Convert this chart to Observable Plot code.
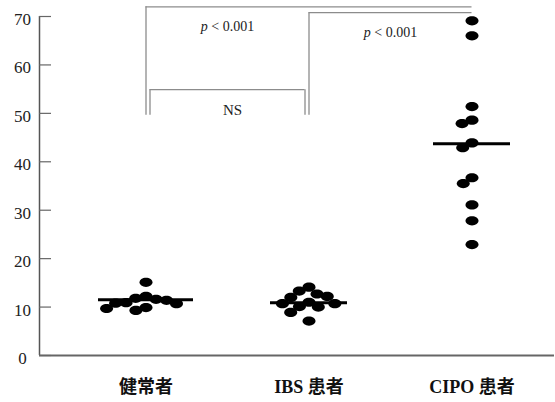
<!DOCTYPE html>
<html>
<head>
<meta charset="utf-8">
<script src="https://cdn.jsdelivr.net/npm/d3@7"></script>
<script src="https://cdn.jsdelivr.net/npm/@observablehq/plot@0.6"></script>
<style>
  body { margin: 0; background: #fff; }
  svg { display: block; }
  svg text { font-family: 'Liberation Serif', 'Noto Sans CJK JP', serif !important; }
</style>
</head>
<body>
<div id="chart"></div>
<script>
// ---- data ----
const categories = ["健常者", "IBS 患者", "CIPO 患者"];
const healthyValues = [15.1, 12.2, 11.8, 11.6, 11.4, 10.9, 10.8, 10.7, 9.9, 9.7, 9.3];
const ibsValues = [14.1, 13.3, 12.7, 12.2, 12.0, 11.0, 10.7, 10.7, 10.1, 10.0, 8.9, 7.1];
const cipoValues = [69.1, 66.0, 51.4, 48.6, 47.9, 43.9, 42.9, 36.7, 35.5, 31.1, 27.8, 22.9];
const meanValues = [11.5, 10.9, 43.7];
const yTicks = [0, 10, 20, 30, 40, 50, 60, 70];
const bracketFrom = [0, 0, 1];
const bracketTo = [2, 1, 2];
const bracketTop = [72, 54.9, 70.8];
const bracketBottom = 49.6;
const bracketLabels = ["p < 0.001", "NS", "p < 0.001"];
const bracketRightLeg = [false, true, false];

// ---- derived tables ----
const points = [healthyValues, ibsValues, cipoValues].flatMap((vals, i) =>
  vals.map(v => ({group: categories[i], value: v})));
const means = meanValues.map((m, i) => ({group: categories[i], mean: m}));
const first = categories[0];
const onFirst = () => first;

// ellipse symbol for the dots
const ellipse = {
  draw(ctx, size) {
    const r = Math.sqrt(size / Math.PI);
    const rx = r * 1.3, ry = r * 0.92, k = 0.5522847498;
    ctx.moveTo(rx, 0);
    ctx.bezierCurveTo(rx, ry * k, rx * k, ry, 0, ry);
    ctx.bezierCurveTo(-rx * k, ry, -rx, ry * k, -rx, 0);
    ctx.bezierCurveTo(-rx, -ry * k, -rx * k, -ry, 0, -ry);
    ctx.bezierCurveTo(rx * k, -ry, rx, -ry * k, rx, 0);
    ctx.closePath();
  }
};

const serif = "'Liberation Serif', 'Noto Sans CJK JP', serif";
const bracketColor = "#8c8c8c";

const bracketMarks = bracketFrom.flatMap((a, i) => {
  const b = bracketTo[i];
  const nested = bracketRightLeg[i];
  const inset = nested ? 4 : 0;
  const isNS = bracketLabels[i] === "NS";
  const marks = [
    Plot.ruleY([i], {fx: onFirst, y: () => bracketTop[i], x1: () => a, x2: () => b,
      insetLeft: inset, insetRight: inset, stroke: bracketColor, strokeWidth: 1.3}),
    Plot.ruleX([i], {fx: onFirst, x: () => a, y1: () => bracketTop[i], y2: () => bracketBottom,
      dx: inset, stroke: bracketColor, strokeWidth: 1.3}),
    Plot.text([i], {fx: onFirst, x: () => a + 0.5, y: () => bracketTop[i],
      text: () => bracketLabels[i], dy: isNS ? 21 : 20, dx: isNS ? 5 : 0,
      fontSize: isNS ? 15 : 14, fill: "#222", fontFamily: serif})
  ];
  if (bracketRightLeg[i]) {
    marks.push(Plot.ruleX([i], {fx: onFirst, x: () => b, y1: () => bracketTop[i], y2: () => bracketBottom,
      dx: -inset, stroke: bracketColor, strokeWidth: 1.3}));
  }
  return marks;
});

const chart = Plot.plot({
  width: 555,
  height: 402,
  marginLeft: 63,
  marginRight: 1,
  marginTop: 16,
  marginBottom: 47,
  style: {fontFamily: serif, background: "#fff", color: "#222"},
  fx: {domain: categories, padding: 0, label: null},
  x: {domain: [-0.5, 0.5], axis: null},
  y: {domain: [0, 70], axis: null},
  marks: [
    // y axis line
    Plot.ruleX([-0.5], {fx: onFirst, x: d => d, y1: 0, y2: 70, dx: -25, stroke: "#555", strokeWidth: 1.5}),
    // y ticks pointing inward
    Plot.ruleY(yTicks, {fx: onFirst, y: d => d, x1: -0.5, x2: -0.5, insetLeft: -25, insetRight: 13,
      stroke: "#666", strokeWidth: 1.2}),
    // y tick labels
    Plot.text(yTicks, {fx: onFirst, y: d => d, x: -0.5, dx: -42, dy: 3, text: d => String(d),
      fontSize: 17, fill: "#222", fontFamily: serif}),
    // x axis line
    Plot.ruleY([0], {fx: onFirst, y: d => d, x1: -0.5, x2: 2.5, insetLeft: -25, insetRight: -1,
      stroke: "#666", strokeWidth: 2}),
    // category labels
    Plot.axisFx({anchor: "bottom", tickSize: 0, tickPadding: 25, fontSize: 18, fontWeight: "bold",
      label: null, fill: "#111"}),
    ...bracketMarks,
    // dots
    Plot.dot(points, Plot.dodgeX({anchor: "middle", padding: 0.5},
      {fx: "group", y: "value", r: 5, fill: "#000", symbol: ellipse})),
    // mean bars
    Plot.ruleY(means.slice(0, 1), {fx: "group", y: "mean", inset: 34, stroke: "#000", strokeWidth: 3}),
    Plot.ruleY(means.slice(1), {fx: "group", y: "mean", inset: 43, stroke: "#000", strokeWidth: 3})
  ]
});

document.getElementById("chart").appendChild(chart);

// italic p in the p-value labels
chart.querySelectorAll("text").forEach(t => {
  if (t.textContent === "p < 0.001") {
    t.textContent = "";
    const ns = "http://www.w3.org/2000/svg";
    const p = document.createElementNS(ns, "tspan");
    p.setAttribute("font-style", "italic");
    p.textContent = "p";
    const rest = document.createElementNS(ns, "tspan");
    rest.textContent = " < 0.001";
    t.appendChild(p);
    t.appendChild(rest);
  }
});
</script>
</body>
</html>
